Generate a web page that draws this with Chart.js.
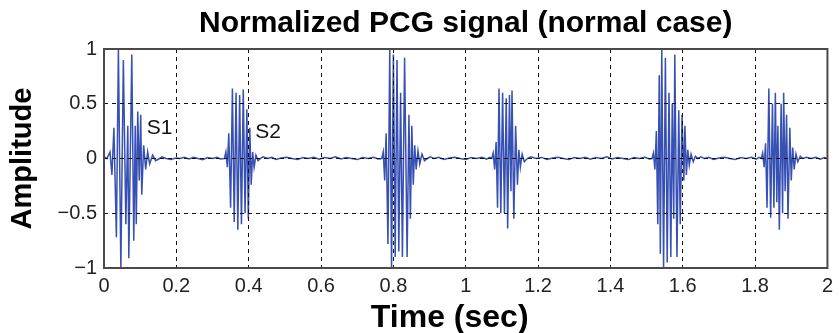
<!DOCTYPE html>
<html>
<head>
<meta charset="utf-8">
<script src="https://cdn.jsdelivr.net/npm/chart.js@4"></script>
<style>
  html, body { margin: 0; padding: 0; background: #fff; }
  #wrap { width: 839px; height: 333px; }
</style>
</head>
<body>
<div id="wrap"><canvas id="pcgChart" width="839" height="333"></canvas></div>
<script>
// heart sound bursts, [time (sec), amplitude]
const s1First = [[0.008,0],[0.0165,0.06],[0.0219,-0.15],[0.0274,0.28],[0.0343,-0.72],[0.0398,1.0],[0.0466,-1.0],[0.0535,0.9],[0.0604,-0.6],[0.0658,0.3],[0.0686,-0.91],[0.0768,0.95],[0.0823,-0.75],[0.0864,0.3],[0.0892,-0.6],[0.0933,0.43],[0.0974,-0.2],[0.1015,0.4],[0.1043,-0.33],[0.1097,0.12],[0.1152,-0.1],[0.1207,0.06],[0.1262,-0.05],[0.1344,0.03],[0.1427,-0.02],[0.1536,0]];
const s2First = [[0.333,0],[0.337,0.06],[0.341,-0.08],[0.345,0.23],[0.350,-0.45],[0.355,0.64],[0.360,-0.58],[0.365,0.6],[0.370,-0.65],[0.375,0.58],[0.380,-0.6],[0.385,0.63],[0.390,-0.5],[0.395,0.45],[0.399,-0.55],[0.403,0.28],[0.407,-0.24],[0.411,0.06],[0.415,-0.08],[0.420,0.03],[0.426,-0.02],[0.432,0]];
const s1Second = [[0.768,0],[0.772,0.06],[0.776,-0.2],[0.780,0.23],[0.785,-0.78],[0.790,1.0],[0.795,-1.0],[0.800,0.95],[0.805,-0.9],[0.810,0.9],[0.815,-0.85],[0.820,0.6],[0.825,-0.9],[0.831,0.92],[0.838,-0.9],[0.843,0.4],[0.847,-0.55],[0.851,0.3],[0.855,-0.24],[0.859,0.12],[0.863,-0.1],[0.868,0.07],[0.873,-0.05],[0.879,0.04],[0.886,-0.02],[0.894,0]];
const s2Second = [[1.072,0],[1.076,0.05],[1.080,-0.1],[1.084,0.15],[1.088,-0.45],[1.092,0.64],[1.097,-0.5],[1.102,0.6],[1.107,-0.5],[1.112,0.55],[1.116,-0.64],[1.121,0.58],[1.125,-0.3],[1.128,0.62],[1.133,-0.55],[1.138,0.3],[1.143,-0.24],[1.147,0.08],[1.151,-0.08],[1.156,0.04],[1.162,-0.03],[1.170,0]];
const s1Third = [[1.515,0],[1.519,0.05],[1.523,-0.1],[1.527,0.25],[1.531,-0.6],[1.535,0.76],[1.538,-0.87],[1.542,1.0],[1.547,-1.0],[1.552,0.92],[1.557,-0.95],[1.562,0.6],[1.567,-0.9],[1.571,0.5],[1.575,-0.55],[1.578,0.95],[1.584,-0.9],[1.589,0.44],[1.593,-0.6],[1.598,0.4],[1.603,-0.2],[1.606,0.3],[1.610,-0.15],[1.614,0.08],[1.618,-0.06],[1.623,0.04],[1.629,-0.03],[1.635,0.02],[1.642,0]];
const s2Third = [[1.817,0],[1.821,0.05],[1.825,-0.08],[1.829,0.14],[1.833,-0.45],[1.838,0.64],[1.843,-0.54],[1.848,0.5],[1.852,-0.45],[1.856,0.6],[1.860,-0.4],[1.863,0.3],[1.867,-0.65],[1.872,0.5],[1.876,-0.5],[1.879,0.6],[1.883,-0.3],[1.887,0.4],[1.891,-0.55],[1.896,0.28],[1.900,-0.2],[1.904,0.1],[1.908,-0.1],[1.913,0.04],[1.918,-0.03],[1.925,0.02],[1.932,0]];
// low level noise between the sounds
const quiet = [[0,0],[0.004,0.01],
  [0.160,0.015],[0.172,0],[0.185,-0.01],[0.198,0.005],[0.210,0],[0.222,0.012],[0.235,-0.005],[0.248,0.01],[0.260,0],[0.273,-0.012],[0.286,0.008],[0.300,0],[0.312,0.01],[0.322,-0.005],
  [0.440,0.015],[0.452,0],[0.464,0.01],[0.475,-0.008],[0.490,0.005],[0.505,0.012],[0.520,0],[0.535,-0.01],[0.550,0.008],[0.565,0],[0.580,0.012],[0.595,-0.006],[0.610,0.01],[0.625,0],[0.640,0.015],[0.655,-0.005],[0.670,0.01],[0.685,0],[0.700,-0.01],[0.715,0.008],[0.730,0],[0.745,0.012],[0.758,-0.005],
  [0.902,0.015],[0.912,0],[0.925,0.01],[0.940,-0.008],[0.955,0.005],[0.970,0.012],[0.985,0],[1.000,-0.01],[1.015,0.008],[1.030,0],[1.045,0.012],[1.058,-0.005],[1.066,0.01],
  [1.180,0.015],[1.195,0],[1.210,0.01],[1.225,-0.008],[1.240,0.005],[1.255,0.012],[1.270,0],[1.285,-0.01],[1.300,0.008],[1.315,0],[1.330,0.012],[1.345,-0.006],[1.360,0.01],[1.375,0],[1.390,0.015],[1.405,-0.005],[1.420,0.01],[1.435,0],[1.450,-0.01],[1.465,0.008],[1.480,0],[1.495,0.012],[1.508,-0.005],
  [1.650,0.015],[1.660,0],[1.672,0.01],[1.685,-0.008],[1.700,0.005],[1.715,0.012],[1.730,0],[1.745,-0.01],[1.760,0.008],[1.775,0],[1.790,0.012],[1.803,-0.005],[1.811,0.01],
  [1.942,0.012],[1.955,0],[1.968,0.01],[1.980,-0.006],[1.992,0.008],[2.000,0]];

const xTicks = [0, 0.2, 0.4, 0.6, 0.8, 1, 1.2, 1.4, 1.6, 1.8, 2];
const yTicks = [-1, -0.5, 0, 0.5, 1];
const soundLabels = [['S1', 0.118, 0.274], ['S2', 0.418, 0.242]];
const xTitle = 'Time (sec)';

const signal = [s1First, s2First, s1Second, s2Second, s1Third, s2Third, quiet]
    .flat()
    .sort((a, b) => a[0] - b[0])
    .map(p => ({x: p[0], y: p[1]}));

const fontFam = "'Liberation Sans', Arial, Helvetica, sans-serif";

// box round the axes, the S1/S2 marks and the x title (sits a bit left of centre in the original)
const frameAndLabels = {
    id: 'frameAndLabels',
    afterDraw(chart) {
        const {ctx, chartArea: a, scales} = chart;
        ctx.save();
        ctx.fillStyle = '#111';
        ctx.font = '21px ' + fontFam;
        ctx.textBaseline = 'middle';
        ctx.textAlign = 'left';
        soundLabels.forEach(l => {
            ctx.fillText(l[0], scales.x.getPixelForValue(l[1]), scales.y.getPixelForValue(l[2]));
        });
        ctx.fillStyle = '#000';
        ctx.font = 'bold 32px ' + fontFam;
        ctx.textAlign = 'center';
        ctx.fillText(xTitle, (a.left + a.right) / 2 - 16, 318);
        ctx.strokeStyle = '#4a4a4a';
        ctx.lineWidth = 2;
        ctx.strokeRect(a.left, a.top, a.right - a.left, a.bottom - a.top);
        ctx.restore();
    }
};

new Chart(document.getElementById('pcgChart'), {
    type: 'line',
    data: {
        datasets: [{
            data: signal,
            borderColor: 'rgb(55, 80, 180)',
            borderWidth: 1.5,
            pointRadius: 0,
            tension: 0
        }]
    },
    options: {
        responsive: false,
        animation: false,
        layout: { padding: { left: 0, right: 6, top: 0, bottom: 0 } },
        plugins: {
            legend: { display: false },
            tooltip: { enabled: false },
            title: {
                display: true,
                fullSize: false,
                text: 'Normalized PCG signal (normal case)',
                color: '#000',
                font: { family: fontFam, size: 30, weight: 'bold' },
                padding: { top: 6, bottom: 7 }
            }
        },
        scales: {
            x: {
                type: 'linear',
                min: 0,
                max: 2,
                afterBuildTicks: s => { s.ticks = xTicks.map(v => ({value: v})); },
                afterFit: s => { s.height = 65; },
                ticks: {
                    color: '#222',
                    padding: 6,
                    maxRotation: 0,
                    font: { family: fontFam, size: 20 },
                    callback: v => String(+v.toFixed(1))
                },
                grid: { color: '#111', lineWidth: 1, drawTicks: false, z: 1 },
                border: { display: false, dash: [4, 4] }
            },
            y: {
                min: -1,
                max: 1,
                afterBuildTicks: s => { s.ticks = yTicks.map(v => ({value: v})); },
                afterFit: s => { s.width = 104; },
                ticks: {
                    color: '#222',
                    padding: 7,
                    font: { family: fontFam, size: 20 },
                    callback: v => String(v).replace('-', '\u2212')
                },
                grid: { color: '#111', lineWidth: 1, drawTicks: false, z: 1 },
                border: { display: false, dash: [4, 4] },
                title: {
                    display: true,
                    text: 'Amplitude',
                    color: '#000',
                    font: { family: fontFam, size: 29, weight: 'bold' },
                    padding: { top: 6, bottom: 0 }
                }
            }
        }
    },
    plugins: [frameAndLabels]
});
</script>
</body>
</html>
